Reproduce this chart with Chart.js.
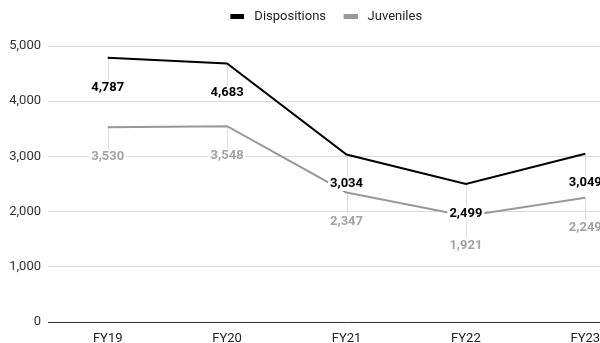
<!DOCTYPE html>
<html>
<head>
<meta charset="utf-8">
<script src="https://cdn.jsdelivr.net/npm/chart.js@4/dist/chart.umd.min.js"></script>
<style>
  html, body { margin: 0; padding: 0; background: #fff; }
  body { width: 600px; height: 343px; overflow: hidden; }
  #wrap { width: 645px; height: 343px; }
</style>
</head>
<body>
<div id="wrap"><canvas id="chart" width="645" height="343"></canvas></div>
<script>
// Case counts per fiscal year
const years = ['FY19', 'FY20', 'FY21', 'FY22', 'FY23'];
const dispositions = [4787, 4683, 3034, 2499, 3049];
const juveniles = [3530, 3548, 2347, 1921, 2249];
const yTicks = [0, 1000, 2000, 3000, 4000, 5000];

const DARK = '#000000';
const GREY = '#999999';
const LABEL_GREY = '#a3a3a3';

Chart.defaults.font.family = 'Roboto, "Noto Sans", Arial, sans-serif';

// Flat legend swatch: a short bar sitting at the right of a small transparent canvas
function swatch(color) {
  const c = document.createElement('canvas');
  c.width = 18; c.height = 5;
  const g = c.getContext('2d');
  g.fillStyle = color;
  g.fillRect(4, 0, 14, 5);
  return c;
}
const swatches = [swatch(DARK), swatch(GREY)];

// Keep the legend band tall so the plot starts lower
const legendBand = {
  id: 'legendBand',
  afterInit(chart) {
    const lg = chart.legend;
    if (!lg) return;
    const fit = lg.fit;
    lg.fit = function () { fit.call(this); this.height = 46; };
  }
};

// Value labels hung below each point on a thin leader line
const valueLabels = {
  id: 'valueLabels',
  beforeDatasetsDraw(chart) {
    const ctx = chart.ctx;
    ctx.save();
    ctx.strokeStyle = '#dedede';
    ctx.lineWidth = 1;
    chart.data.datasets.forEach((ds, i) => {
      chart.getDatasetMeta(i).data.forEach(pt => {
        const x = Math.round(pt.x) + 0.5;
        ctx.beginPath();
        ctx.moveTo(x, pt.y);
        ctx.lineTo(x, pt.y + 22);
        ctx.stroke();
      });
    });
    ctx.restore();
  },
  afterDatasetsDraw(chart) {
    const ctx = chart.ctx;
    ctx.save();
    ctx.font = 'bold 13px Roboto, "Noto Sans", Arial, sans-serif';
    ctx.textAlign = 'center';
    ctx.textBaseline = 'middle';
    chart.data.datasets.forEach((ds, i) => {
      chart.getDatasetMeta(i).data.forEach((pt, j) => {
        const txt = ds.data[j].toLocaleString('en-US');
        const w = ctx.measureText(txt).width;
        const cy = pt.y + 29.5;
        ctx.fillStyle = '#ffffff';
        ctx.fillRect(pt.x - w / 2 - 2, cy - 7, w + 4, 14);
        ctx.fillStyle = ds.labelColor;
        ctx.fillText(txt, pt.x, cy);
      });
    });
    ctx.restore();
  }
};

new Chart(document.getElementById('chart'), {
  type: 'line',
  data: {
    labels: years,
    datasets: [
      {
        label: 'Dispositions',
        data: dispositions,
        borderColor: DARK,
        backgroundColor: DARK,
        labelColor: '#000000',
        borderWidth: 2,
        pointRadius: 0,
        tension: 0
      },
      {
        label: 'Juveniles',
        data: juveniles,
        borderColor: GREY,
        backgroundColor: GREY,
        labelColor: LABEL_GREY,
        borderWidth: 2,
        pointRadius: 0,
        tension: 0
      }
    ]
  },
  options: {
    responsive: false,
    animation: false,
    events: [],
    layout: { padding: 0 },
    plugins: {
      tooltip: { enabled: false },
      legend: {
        position: 'top',
        labels: {
          usePointStyle: true,
          pointStyleWidth: 25,
          padding: 10,
          color: '#222222',
          font: { size: 13 },
          generateLabels(chart) {
            const items = Chart.defaults.plugins.legend.labels.generateLabels(chart);
            items.forEach((it, i) => { it.pointStyle = swatches[i]; });
            return items;
          }
        }
      }
    },
    scales: {
      x: {
        offset: true,
        grid: { display: false },
        border: { display: false },
        ticks: { color: '#222222', font: { size: 13 }, padding: 1, maxRotation: 0 },
        afterFit(s) { s.height = 21; }
      },
      y: {
        min: 0,
        max: 5000,
        afterBuildTicks(s) { s.ticks = yTicks.map(v => ({ value: v })); },
        grid: {
          drawTicks: false,
          color: c => (c.tick && c.tick.value === 0 ? '#333333' : '#d9d9d9'),
          lineWidth: 1
        },
        border: { display: false },
        ticks: {
          color: '#333333',
          font: { size: 13 },
          padding: 7,
          callback: v => Number(v).toLocaleString('en-US')
        },
        afterFit(s) { s.width = 48; }
      }
    }
  },
  plugins: [legendBand, valueLabels]
});
</script>
</body>
</html>
